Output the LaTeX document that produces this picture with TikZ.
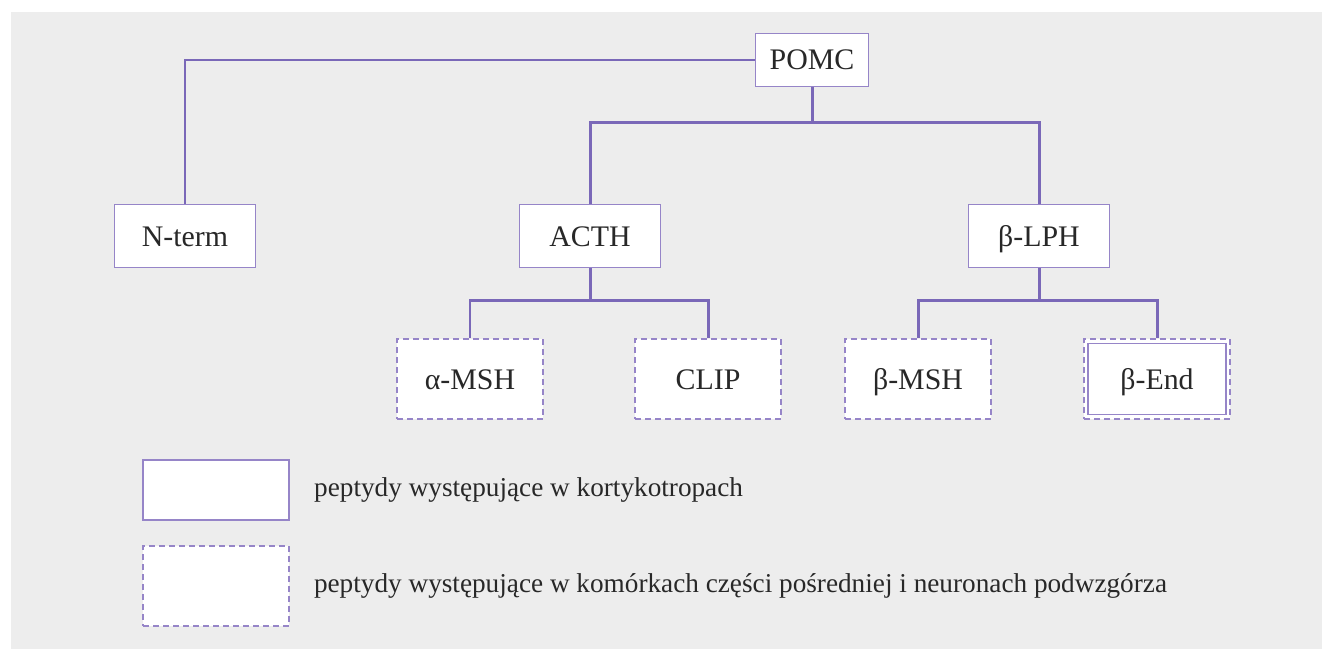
\documentclass[tikz,border=0pt]{standalone}
\usepackage{fontspec}
\setmainfont{Liberation Serif}
\usetikzlibrary{positioning}
\definecolor{pomcline}{RGB}{122,104,184}
\definecolor{pomcbox}{RGB}{150,133,200}
\definecolor{pomcbg}{RGB}{237,237,237}
\definecolor{pomctext}{RGB}{40,40,40}

\begin{document}
\begin{tikzpicture}[
x=0.02cm,
y=-0.02cm,
box/.style={
  draw=pomcbox,
  line width=1pt,
  fill=white,
  inner sep=0pt,
  text=pomctext,
  text height=0.45cm,
  text depth=0.05cm,
  font=\fontsize{17}{20}\selectfont
  },
pbox/.style={
  box,
  minimum width=2.82cm,
  minimum height=1.26cm
  },
dbox/.style={
  box,
  line width=0.8pt,
  dash pattern=on 0.12cm off 0.08cm,
  minimum width=2.92cm,
  minimum height=1.6cm
  },
link/.style={
  draw=pomcline,
  line width=1.7pt
  },
legend/.style={
  text=pomctext,
  inner sep=0pt,
  font=\fontsize{15.5}{18}\selectfont,
  anchor=west
  }
]
\useasboundingbox (0,0) rectangle (1322,649);
\fill[pomcbg] (11,12) rectangle (1322,649);

% tree
\node[pbox, minimum width=2.26cm, minimum height=1.06cm] (pomc) at (812,60) {POMC};
\node[pbox] (nterm) at (185,236) {N-term};
\node[pbox] (acth) at (590,236) {ACTH};
\node[pbox] (lph) at (1039,236) {β-LPH};
\node[dbox] (amsh) at (470,379) {α-MSH};
\node[dbox] (clip) at (708,379) {CLIP};
\node[dbox] (bmsh) at (918,379) {β-MSH};
\node[dbox] (bend) at (1157,379) {};
\node[box, minimum width=2.76cm, minimum height=1.42cm] (bendin) at (bend) {β-End};

\draw[link] (pomc.west) -| (nterm.north);
\foreach \kid in {acth,lph}
  \draw[link] (pomc.south) -- ++(0,35) -| (\kid.north);
\foreach \up/\kid in {acth/amsh,acth/clip,lph/bmsh,lph/bend}
  \draw[link] (\up.south) -- ++(0,32) -| (\kid.north);

% legend
\node[box, minimum width=2.92cm, minimum height=1.2cm] (legsolid) at (216,490) {};
\node[dbox] (legdash) at (216,586) {};
\node[legend, right=0.48cm of legsolid.east] (txtsolid) {peptydy występujące w kortykotropach};
\node[legend, right=0.48cm of legdash.east] (txtdash) {peptydy występujące w komórkach części pośredniej i neuronach podwzgórza};
\end{tikzpicture}
\end{document}
